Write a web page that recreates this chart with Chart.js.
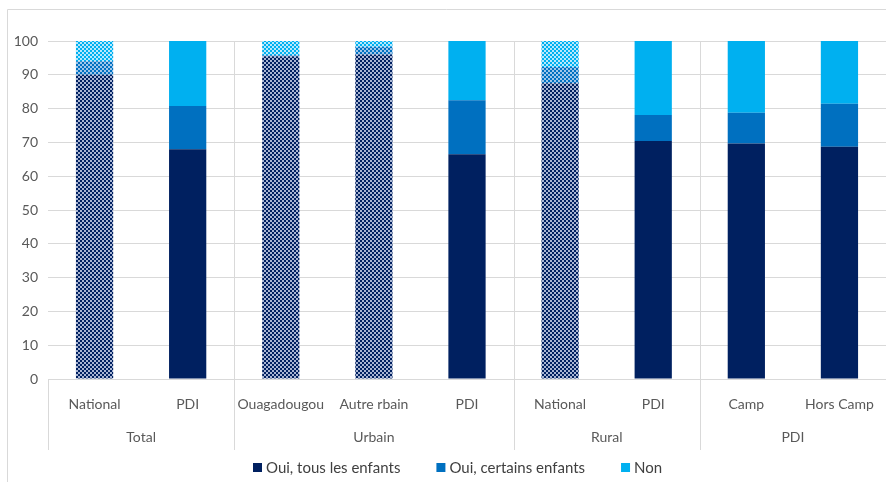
<!DOCTYPE html>
<html>
<head>
<meta charset="utf-8">
<script src="https://cdn.jsdelivr.net/npm/chart.js@4/dist/chart.umd.min.js"></script>
<style>
  html, body { margin: 0; padding: 0; background: #fff; }
  #wrap { width: 886px; height: 482px; position: relative; }
</style>
</head>
<body>
<div id="wrap"><canvas id="chart"></canvas></div>
<script>
// categories and groups
const categories = ['National', 'PDI', 'Ouagadougou', 'Autre rbain', 'PDI', 'National', 'PDI', 'Camp', 'Hors Camp'];
const groups = ['Total', 'Urbain', 'Rural', 'PDI'];
const groupSizes = [2, 3, 2, 2];
// bars drawn with a dotted fill (whole population estimates)
const hatched = [true, false, true, true, false, true, false, false, false];

// series values (%)
const seriesNames = ['Oui, tous les enfants', 'Oui, certains enfants', 'Non'];
const ouiTous = [90, 68, 95.5, 96, 66.5, 87.5, 70.4, 69.7, 68.7];
const ouiCertains = [4, 12.8, 0.3, 2.3, 16, 4.8, 7.7, 9.1, 12.7];
const non = [6, 19.2, 4.2, 1.7, 17.5, 7.7, 21.9, 21.2, 18.6];

const yTicks = [0, 10, 20, 30, 40, 50, 60, 70, 80, 90, 100];

const colors = ['#002060', '#0070C0', '#00B0F0'];
const lightColors = ['#a9b5d3', '#9fc6ea', '#b8e9fc'];

function makePattern(dark, light) {
    const c = document.createElement('canvas');
    c.width = 4;
    c.height = 4;
    const g = c.getContext('2d');
    g.fillStyle = light;
    g.fillRect(0, 0, 4, 4);
    g.fillStyle = dark;
    g.fillRect(0, 0, 2, 2);
    g.fillRect(2, 2, 2, 2);
    return g.createPattern(c, 'repeat');
}

const patterns = colors.map((c, i) => makePattern(c, lightColors[i]));

function fillFor(i) {
    return (ctx) => hatched[ctx.dataIndex] ? patterns[i] : colors[i];
}

// group row, separators, legend and outer frame
const groupAxis = {
    id: 'groupAxis',
    afterDraw(chart) {
        const ctx = chart.ctx;
        const area = chart.chartArea;
        const x = chart.scales.x;
        const half = (x.getPixelForValue(1) - x.getPixelForValue(0)) / 2;
        const bottom = 450;

        ctx.save();
        ctx.strokeStyle = '#d9d9d9';
        ctx.lineWidth = 1;

        // frame
        ctx.beginPath();
        ctx.moveTo(7.5, 482);
        ctx.lineTo(7.5, 9.5);
        ctx.lineTo(886, 9.5);
        ctx.stroke();

        // left edge below the axis
        ctx.beginPath();
        ctx.moveTo(Math.round(area.left) + 0.5, area.bottom);
        ctx.lineTo(Math.round(area.left) + 0.5, bottom);
        ctx.stroke();

        ctx.fillStyle = '#595959';
        ctx.font = '14px Lato';
        ctx.textAlign = 'center';
        ctx.textBaseline = 'middle';

        let start = 0;
        groups.forEach((g, gi) => {
            const end = start + groupSizes[gi];
            const left = x.getPixelForValue(start) - half;
            const right = Math.min(x.getPixelForValue(end - 1) + half, area.right);
            if (gi > 0) {
                const px = Math.round(left) + 0.5;
                ctx.beginPath();
                ctx.moveTo(px, area.top);
                ctx.lineTo(px, bottom);
                ctx.stroke();
            }
            ctx.fillText(g, (left + right) / 2, 437);
            start = end;
        });

        // legend
        ctx.font = '15px Lato';
        ctx.textAlign = 'left';
        let lx = 253;
        const ly = 468;
        seriesNames.forEach((name, i) => {
            ctx.fillStyle = colors[i];
            ctx.fillRect(lx, ly - 5, 9, 9);
            ctx.fillStyle = '#404040';
            ctx.fillText(name, lx + 13, ly);
            lx += 13 + ctx.measureText(name).width + 36;
        });
        ctx.restore();
    }
};

const ctx = document.getElementById('chart').getContext('2d');
new Chart(ctx, {
    type: 'bar',
    data: {
        labels: categories,
        datasets: [
            { label: seriesNames[0], data: ouiTous, backgroundColor: fillFor(0) },
            { label: seriesNames[1], data: ouiCertains, backgroundColor: fillFor(1) },
            { label: seriesNames[2], data: non, backgroundColor: fillFor(2) }
        ]
    },
    options: {
        responsive: true,
        maintainAspectRatio: false,
        animation: false,
        layout: { padding: { top: 41, left: 8, right: 0, bottom: 32 } },
        datasets: { bar: { barPercentage: 0.4, categoryPercentage: 1 } },
        scales: {
            x: {
                stacked: true,
                grid: { display: false },
                border: { display: true, color: '#d9d9d9' },
                ticks: { color: '#595959', font: { family: 'Lato', size: 14 }, padding: 9, maxRotation: 0, autoSkip: false },
                afterFit: (s) => { s.height = 71; }
            },
            y: {
                stacked: true,
                min: 0,
                max: 100,
                afterBuildTicks: (s) => { s.ticks = yTicks.map(v => ({ value: v })); },
                grid: { color: '#d9d9d9', drawTicks: false },
                border: { display: false },
                ticks: { color: '#595959', font: { family: 'Lato', size: 14 }, padding: 10 },
                afterFit: (s) => { s.width = 40; }
            }
        },
        plugins: {
            legend: { display: false },
            tooltip: { enabled: false }
        }
    },
    plugins: [groupAxis]
});
</script>
</body>
</html>
